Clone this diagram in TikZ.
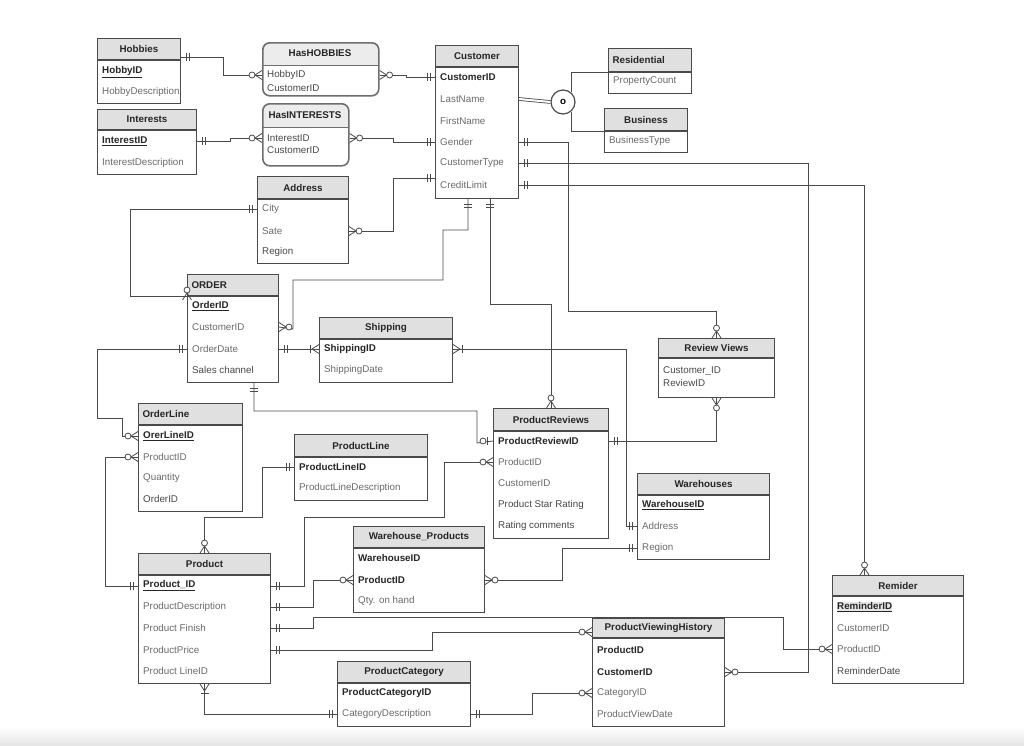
\documentclass[tikz,border=0pt]{standalone}
\usepackage{fontspec}
\setmainfont{Liberation Sans}
\usetikzlibrary{calc}

\definecolor{linec}{HTML}{4A4A4A}
\definecolor{boxc}{HTML}{6E6E6E}
\definecolor{hdrc}{HTML}{E0E0E0}
\definecolor{attrc}{HTML}{6A6A6A}
\definecolor{attrdc}{HTML}{474747}
\definecolor{keyc}{HTML}{262626}

\newcommand{\erfont}{\fontsize{9.8}{11.5}\selectfont}

\tikzset{
  ent/.style={draw=linec, line width=1pt, fill=white, anchor=north west, inner sep=0pt},
  hdr/.style={ent, fill=hdrc, font=\erfont\bfseries, text=keyc},
  hdrl/.style={hdr, align=left, inner xsep=4pt},
  rbox/.style={draw=boxc, line width=1.6pt, rounded corners=7pt, anchor=north west, inner sep=0pt},
  attr/.style={anchor=west, inner sep=0pt, font=\erfont, text=attrc},
  attrd/.style={attr, text=attrdc},
  pk/.style={attr, font=\erfont\bfseries, text=keyc},
  conn/.style={draw=linec, line width=0.8pt},
  % crow's foot end marks, drawn outward from the entity edge along +x
  crowone/.pic={\draw[conn] (5,-4) -- (5,4) (8,-4) -- (8,4);},
  crowzmany/.pic={\draw[conn] (0,-4.5) -- (7,0) -- (0,4.5); \draw[conn, fill=white] (10,0) circle (3pt);},
  crowzone/.pic={\draw[conn] (6,-4) -- (6,4); \draw[conn, fill=white] (10,0) circle (3pt);},
  crowomany/.pic={\draw[conn] (0,-4.5) -- (7,0) -- (0,4.5); \draw[conn] (9,-4) -- (9,4);}
}

\begin{document}
\begin{tikzpicture}[x=1pt, y=-1pt]
\useasboundingbox (0,0) rectangle (1024,745);
\fill[white] (0,0) rectangle (1024,745);
\shade[top color=white, bottom color=black!10] (0,727) rectangle (1024,745);

% Hobbies
\node[hdr, minimum width=83pt, minimum height=21pt] (hobh) at (97,38) {Hobbies};
\node[ent, minimum width=83pt, minimum height=43pt] (hob) at (hobh.south west) {};
\node[pk] (hid) at (102,72) {\underline{HobbyID}};
\begin{scope}
\clip (hob.south west) rectangle (hob.north east);
\node[attr] (hdesc) at (102,92) {HobbyDescription};
\end{scope}

% HasHOBBIES
\begin{scope}
\clip[rounded corners=7pt] (262,42) rectangle (378,95);
\fill[hdrc!60] (262,42) rectangle (378,65);
\end{scope}
\node[rbox, minimum width=116pt, minimum height=53pt] (hhob) at (262,42) {};
\draw[draw=boxc, line width=1pt] (262,65) -- (378,65);
\node[font=\erfont\bfseries, text=keyc] (hhobt) at (320,53.5) {HasHOBBIES};
\node[attrd] (hhid) at (267,75) {HobbyID};
\node[attrd] (hhcid) at (267,88) {CustomerID};

% Interests
\node[hdr, minimum width=99pt, minimum height=20pt] (intrh) at (97,109) {Interests};
\node[ent, minimum width=99pt, minimum height=44pt] (intr) at (intrh.south west) {};
\node[pk] (iid) at (102,141) {\underline{InterestID}};
\node[attr] (idesc) at (102,163) {InterestDescription};

% HasINTERESTS
\begin{scope}
\clip[rounded corners=7pt] (262,103) rectangle (348,165);
\fill[hdrc!60] (262,103) rectangle (348,127);
\end{scope}
\node[rbox, minimum width=86pt, minimum height=62pt] (hint) at (262,103) {};
\draw[draw=boxc, line width=1pt] (262,127) -- (348,127);
\node[font=\erfont\bfseries, text=keyc] (hintt) at (305,115) {HasINTERESTS};
\node[attrd] (hiid) at (267,138) {InterestID};
\node[attrd] (hicid) at (267,150) {CustomerID};

% Customer
\node[hdr, minimum width=83pt, minimum height=21pt] (custh) at (435,45) {Customer};
\node[ent, minimum width=83pt, minimum height=131pt] (cust) at (custh.south west) {};
\node[pk] (cid) at (440,77) {CustomerID};
\node[attr] (clast) at (440,99) {LastName};
\node[attr] (cfirst) at (440,121) {FirstName};
\node[attr] (cgen) at (440,142) {Gender};
\node[attr] (ctype) at (440,163) {CustomerType};
\node[attr] (ccred) at (440,185) {CreditLimit};

% Residential / Business
\node[hdrl, minimum width=83pt, minimum height=23pt, text width=75pt] (resh) at (608,48) {Residential};
\node[ent, minimum width=83pt, minimum height=21pt] (res) at (resh.south west) {};
\node[attr] (rpc) at (613,81) {PropertyCount};
\node[hdr, minimum width=83pt, minimum height=22pt] (bush) at (604,108) {Business};
\node[ent, minimum width=83pt, minimum height=21pt] (bus) at (bush.south west) {};
\node[attr] (btype) at (609,141) {BusinessType};
\node[draw=linec, circle, line width=1.2pt, minimum size=24pt, inner sep=0pt, fill=white, font=\erfont\bfseries] (disj) at (563,102) {o};

% Address
\node[hdr, minimum width=91pt, minimum height=22pt] (addrh) at (257,176) {Address};
\node[ent, minimum width=91pt, minimum height=64pt] (addr) at (addrh.south west) {};
\node[attr] (acity) at (262,209) {City};
\node[attr] (asate) at (262,231) {Sate};
\node[attrd] (areg) at (262,252) {Region};

% ORDER
\node[hdrl, minimum width=91pt, minimum height=21pt, text width=83pt] (ordh) at (187,274) {ORDER};
\node[ent, minimum width=91pt, minimum height=86pt] (ord) at (ordh.south west) {};
\node[pk] (oid) at (192,306) {\underline{OrderID}};
\node[attr] (ocid) at (192,327) {CustomerID};
\node[attr] (odate) at (192,349) {OrderDate};
\node[attrd] (ochan) at (192,370) {Sales channel};

% Shipping
\node[hdr, minimum width=133pt, minimum height=21pt] (shiph) at (319,317) {Shipping};
\node[ent, minimum width=133pt, minimum height=43pt] (ship) at (shiph.south west) {};
\node[pk] (sid) at (324,349) {ShippingID};
\node[attr] (sdate) at (324,370) {ShippingDate};

% OrderLine
\node[hdrl, minimum width=104pt, minimum height=21pt, text width=96pt] (olh) at (138,403) {OrderLine};
\node[ent, minimum width=104pt, minimum height=86pt] (ol) at (olh.south west) {};
\node[pk] (olid) at (143,436) {\underline{OrerLineID}};
\node[attr] (olpid) at (143,457) {ProductID};
\node[attr] (olqty) at (143,478) {Quantity};
\node[attrd] (oloid) at (143,499) {OrderID};

% ProductLine
\node[hdr, minimum width=133pt, minimum height=22pt] (plh) at (294,434) {ProductLine};
\node[ent, minimum width=133pt, minimum height=43pt] (pl) at (plh.south west) {};
\node[pk] (plid) at (299,467) {ProductLineID};
\node[attr] (pldesc) at (299,488) {ProductLineDescription};

% ProductReviews
\node[hdr, minimum width=115pt, minimum height=22pt] (prh) at (493,408) {ProductReviews};
\node[ent, minimum width=115pt, minimum height=107pt] (pr) at (prh.south west) {};
\node[pk] (prid) at (498,441) {ProductReviewID};
\node[attr] (prpid) at (498,462) {ProductID};
\node[attr] (prcid) at (498,483) {CustomerID};
\node[attrd] (prstar) at (498,505) {Product Star Rating};
\node[attrd] (prcom) at (498,526) {Rating comments};

% Review Views
\node[hdr, minimum width=116pt, minimum height=19pt] (rvh) at (658,338) {Review Views};
\node[ent, minimum width=116pt, minimum height=39pt] (rv) at (rvh.south west) {};
\node[attrd] (rvcid) at (663,371) {Customer\_ID};
\node[attrd] (rvrid) at (663,383) {ReviewID};

% Warehouses
\node[hdr, minimum width=132pt, minimum height=21pt] (whh) at (637,473) {Warehouses};
\node[ent, minimum width=132pt, minimum height=64pt] (wh) at (whh.south west) {};
\node[pk] (wid) at (642,505) {\underline{WarehouseID}};
\node[attr] (waddr) at (642,526) {Address};
\node[attr] (wreg) at (642,548) {Region};

% Product
\node[hdr, minimum width=132pt, minimum height=21pt] (prodh) at (138,553) {Product};
\node[ent, minimum width=132pt, minimum height=108pt] (prod) at (prodh.south west) {};
\node[pk] (ppid) at (143,586) {\underline{Product\_ID}};
\node[attr] (pdesc) at (143,607) {ProductDescription};
\node[attr] (pfin) at (143,628) {Product Finish};
\node[attr] (pprice) at (143,650) {ProductPrice};
\node[attr] (plineid) at (143,671) {Product LineID};

% Warehouse_Products
\node[hdr, minimum width=131pt, minimum height=21pt] (wph) at (353,526) {Warehouse\_Products};
\node[ent, minimum width=131pt, minimum height=64pt] (wp) at (wph.south west) {};
\node[pk] (wpwid) at (358,558) {WarehouseID};
\node[pk] (wppid) at (358,580) {ProductID};
\node[attr] (wpqty) at (358,601) {Qty. on hand};

% ProductCategory
\node[hdr, minimum width=133pt, minimum height=21pt] (pch) at (337,661) {ProductCategory};
\node[ent, minimum width=133pt, minimum height=43pt] (pc) at (pch.south west) {};
\node[pk] (pcid) at (342,693) {ProductCategoryID};
\node[attr] (pcdesc) at (342,714) {CategoryDescription};

% ProductViewingHistory
\node[hdr, minimum width=132pt, minimum height=19pt] (pvhh) at (592,618) {ProductViewingHistory};
\node[ent, minimum width=132pt, minimum height=88pt] (pvh) at (pvhh.south west) {};
\node[pk] (pvpid) at (597,650) {ProductID};
\node[pk] (pvcid) at (597,672) {CustomerID};
\node[attr] (pvcat) at (597,693) {CategoryID};
\node[attr] (pvdate) at (597,714) {ProductViewDate};

% Remider
\node[hdr, minimum width=131pt, minimum height=20pt] (remh) at (832,575) {Remider};
\node[ent, minimum width=131pt, minimum height=87pt] (rem) at (remh.south west) {};
\node[pk, fill=black!10] (rid) at (837,607) {\underline{ReminderID}};
\node[attr] (rcid) at (837,628) {CustomerID};
\node[attr] (rpid) at (837,649) {ProductID};
\node[attrd] (rdate) at (837,671) {ReminderDate};

% relationships
\coordinate (cgate) at ($(cust.west |- ccred)+(0,-7)$);
\draw[conn] ([yshift=-8pt]hobh.east) -- ++(42,0) |- (hhob.west |- hhid);
\draw[conn] (hhob.east |- hhid) -- ++(27,0) |- (cust.west |- cid);
\draw[conn] (intr.east |- iid) -- ++(33,0) |- (hint.west |- hiid);
\draw[conn] (hint.east |- hiid) -- ++(44,0) |- (cust.west |- cgen);
\draw[conn] (addr.west |- acity) -- ++(-127,0) |- (ordh.south west);
\draw[conn] (addr.east |- asate) -- ++(44,0) |- (cgate);
\draw[conn] ([xshift=33pt]cust.south west) -- ++(0,31) -- ++(-25,0) -- ++(0,50) -| ++(-150,49) -- (ord.east |- ocid);
\draw[conn] ([xshift=55pt]cust.south west) -- ++(0,105) -| (prh.north);
\draw[conn] (cust.east |- cgen) -- ++(49,0) -- ++(0,169) -| (rvh.north);
\draw[conn] (cust.east |- ctype) -- ++(289,0) |- (pvh.east |- pvcid);
\draw[conn] (cust.east |- ccred) -| ([xshift=-33.5pt]remh.north);
\draw[conn] (ord.east |- odate) -- (ship.west |- sid);
\draw[conn] (ship.east |- sid) -- ++(173,0) |- (wh.west |- waddr);
\draw[conn] (ord.west |- odate) -- ++(-90,0) -- ++(0,69) -- ++(25,0) |- (ol.west |- olid);
\draw[conn] ([xshift=67pt]ord.south west) -- ++(0,28) -| ++(223,32) -- (pr.west |- prid);
\draw[conn] (ol.west |- olpid) -- ++(-33,0) |- (prod.west |- ppid);
\draw[conn] (pl.west |- plid) -- ++(-32,0) -- ++(0,50) -| (prodh.north);
\draw[conn] (prod.east |- ppid) -- ++(33,0) -- ++(0,-69) -- ++(140,0) |- (pr.west |- prpid);
\draw[conn] (prod.east |- pdesc) -- ++(42,0) |- (wp.west |- wppid);
\draw[conn] (wp.east |- wppid) -- ++(77,0) |- (wh.west |- wreg);
\draw[conn] (prod.east |- pfin) -- ++(42,0) -- ++(0,-11) -- ++(470,0) |- (rem.west |- rpid);
\draw[conn] (prod.east |- pprice) -- ++(161,0) |- ([yshift=-4pt]pvhh.west);
\draw[conn] (prod.south) |- (pc.west |- pcdesc);
\draw[conn] (pc.east |- pcdesc) -- ++(61,0) |- (pvh.west |- pvcat);
\draw[conn] (pr.east |- prid) -| (rv.south);
\draw[conn, double, double distance=2pt] (cust.east |- clast) -- (disj.west);
\draw[conn] (disj.50) |- (resh.south west);
\draw[conn] (disj.-50) |- (bush.south west);

% end marks
\pic at ([yshift=-8pt]hobh.east) {crowone};
\pic[rotate=180] at (hhob.west |- hhid) {crowzmany};
\pic at (hhob.east |- hhid) {crowzmany};
\pic[rotate=180] at (cust.west |- cid) {crowone};
\pic at (intr.east |- iid) {crowone};
\pic[rotate=180] at (hint.west |- hiid) {crowzmany};
\pic at (hint.east |- hiid) {crowzmany};
\pic[rotate=180] at (cust.west |- cgen) {crowone};
\pic[rotate=180] at (addr.west |- acity) {crowone};
\pic[rotate=90] at ([yshift=-4pt]ordh.south west) {crowzmany};
\pic at (addr.east |- asate) {crowzmany};
\pic[rotate=180] at (cgate) {crowone};
\pic[rotate=-90] at ([xshift=33pt]cust.south west) {crowone};
\pic at (ord.east |- ocid) {crowzmany};
\pic[rotate=-90] at ([xshift=55pt]cust.south west) {crowone};
\pic[rotate=90] at (prh.north) {crowzmany};
\pic at (cust.east |- cgen) {crowone};
\pic[rotate=90] at (rvh.north) {crowzmany};
\pic at (cust.east |- ctype) {crowone};
\pic at (pvh.east |- pvcid) {crowzmany};
\pic at (cust.east |- ccred) {crowone};
\pic[rotate=90] at ([xshift=-33.5pt]remh.north) {crowzmany};
\pic at (ord.east |- odate) {crowone};
\pic[rotate=180] at (ship.west |- sid) {crowomany};
\pic at (ship.east |- sid) {crowomany};
\pic[rotate=180] at (wh.west |- waddr) {crowone};
\pic[rotate=180] at (ord.west |- odate) {crowone};
\pic[rotate=180] at (ol.west |- olid) {crowzmany};
\pic[rotate=-90] at ([xshift=67pt]ord.south west) {crowone};
\pic[rotate=180] at (pr.west |- prid) {crowzone};
\pic[rotate=180] at (ol.west |- olpid) {crowzmany};
\pic[rotate=180] at (prod.west |- ppid) {crowone};
\pic[rotate=180] at (pl.west |- plid) {crowone};
\pic[rotate=90] at (prodh.north) {crowzmany};
\pic at (prod.east |- ppid) {crowone};
\pic[rotate=180] at (pr.west |- prpid) {crowzmany};
\pic at (prod.east |- pdesc) {crowone};
\pic[rotate=180] at (wp.west |- wppid) {crowzmany};
\pic at (wp.east |- wppid) {crowzmany};
\pic[rotate=180] at (wh.west |- wreg) {crowone};
\pic at (prod.east |- pfin) {crowone};
\pic[rotate=180] at (rem.west |- rpid) {crowzmany};
\pic at (prod.east |- pprice) {crowone};
\pic[rotate=180] at ([yshift=-4pt]pvhh.west) {crowzmany};
\pic[rotate=-90] at (prod.south) {crowomany};
\pic[rotate=180] at (pc.west |- pcdesc) {crowone};
\pic at (pc.east |- pcdesc) {crowone};
\pic[rotate=180] at (pvh.west |- pvcat) {crowzmany};
\pic at (pr.east |- prid) {crowone};
\pic[rotate=-90] at (rv.south) {crowzmany};
\end{tikzpicture}
\end{document}
